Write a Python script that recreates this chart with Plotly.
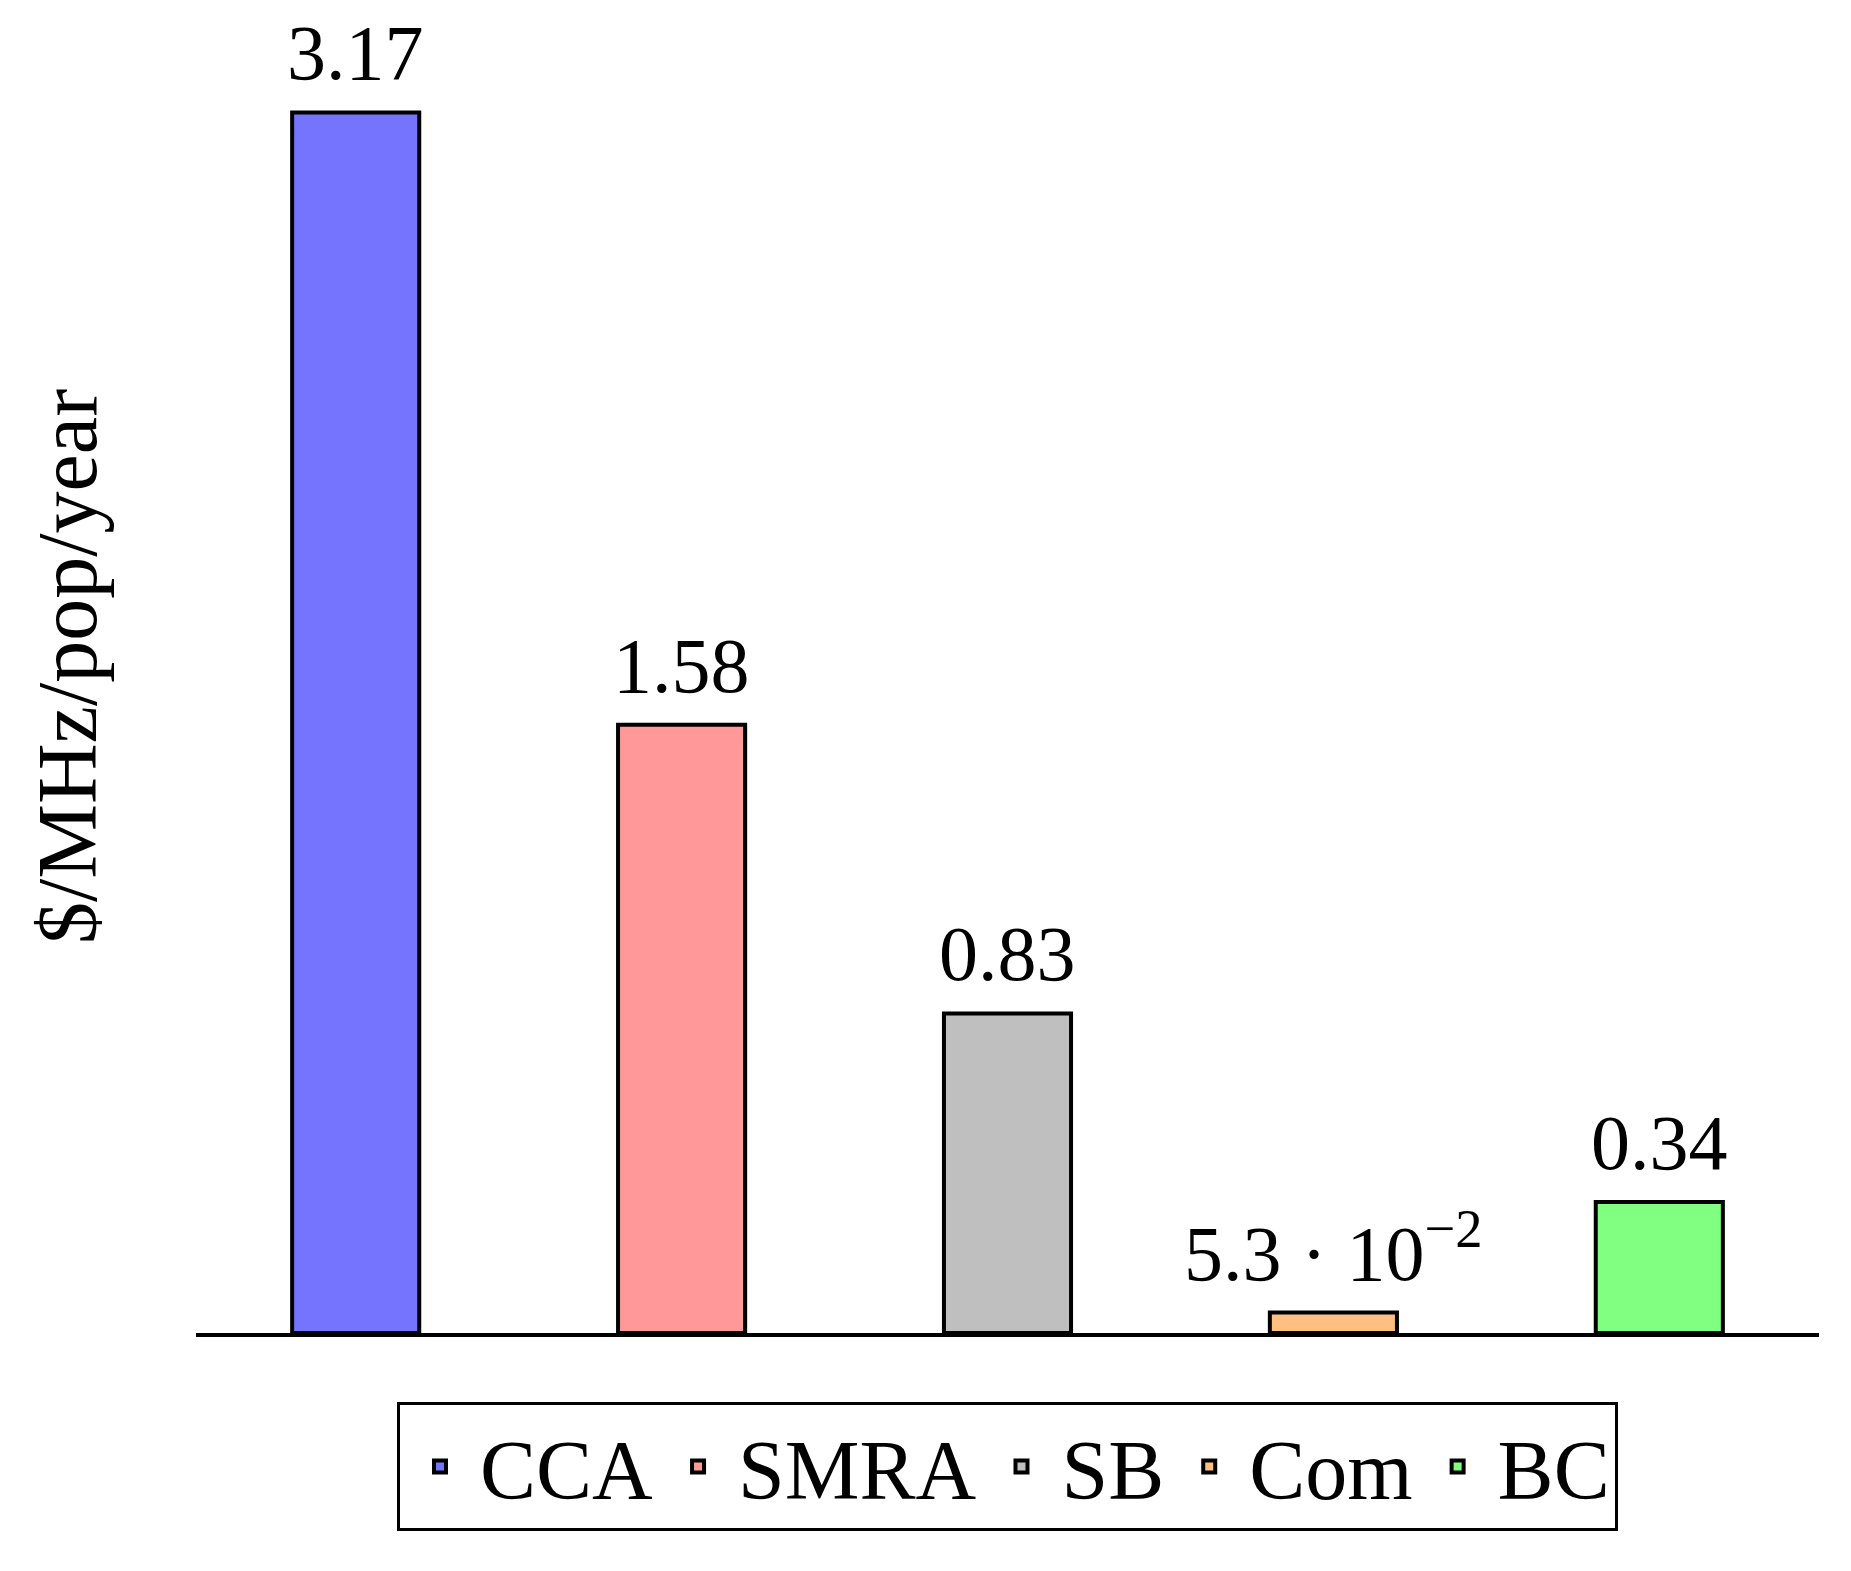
import math
import plotly.graph_objects as go

categories = ["CCA", "SMRA", "SB", "Com", "BC"]
values = [3.17, 1.58, 0.83, 0.053, 0.34]
colors = ["#7474ff", "#ff9999", "#bfbfbf", "#ffbf80", "#80ff80"]
y_title = "$/MHz/pop/year"

FONT = "Liberation Serif"


def fmt(v):
    if v < 0.1:
        e = int(math.floor(math.log10(v)))
        m = v / 10 ** e
        return f"{m:.1f} · 10<sup>\u2212{abs(e)}</sup>"
    return f"{v:.2f}"


fig = go.Figure()
for c, v, col in zip(categories, values, colors):
    fig.add_trace(go.Bar(
        x=[c], y=[v], name=c, width=0.39,
        marker=dict(color=col, line=dict(color="black", width=4)),
        showlegend=True,
    ))

for c, v in zip(categories, values):
    fig.add_annotation(x=c, y=v, text=fmt(v), showarrow=False,
                       xanchor="center", yanchor="bottom", yshift=14,
                       font=dict(family=FONT, size=78, color="black"))

fig.update_layout(
    width=1851, height=1571,
    margin=dict(l=196, r=32, t=0, b=238, autoexpand=False),
    barmode="overlay",
    plot_bgcolor="white", paper_bgcolor="white",
    font=dict(family=FONT, size=78, color="black"),
    xaxis=dict(type="category", range=[-0.49, 4.49], showline=True,
               linecolor="black", linewidth=4, showticklabels=False,
               ticks="", showgrid=False, zeroline=False),
    yaxis=dict(range=[0, 3.462], showticklabels=False, ticks="",
               showgrid=False, zeroline=False, showline=False,
               title=dict(text=y_title, standoff=70,
                          font=dict(family=FONT, size=84))),
    legend=dict(orientation="h", x=0.5, xanchor="center", y=-0.052,
                yanchor="top", bordercolor="black", borderwidth=3,
                font=dict(family=FONT, size=84), itemwidth=70,
                bgcolor="white"),
)

fig.write_html("out.html", config={"displayModeBar": False},
               post_script="document.body.style.margin='0';")
